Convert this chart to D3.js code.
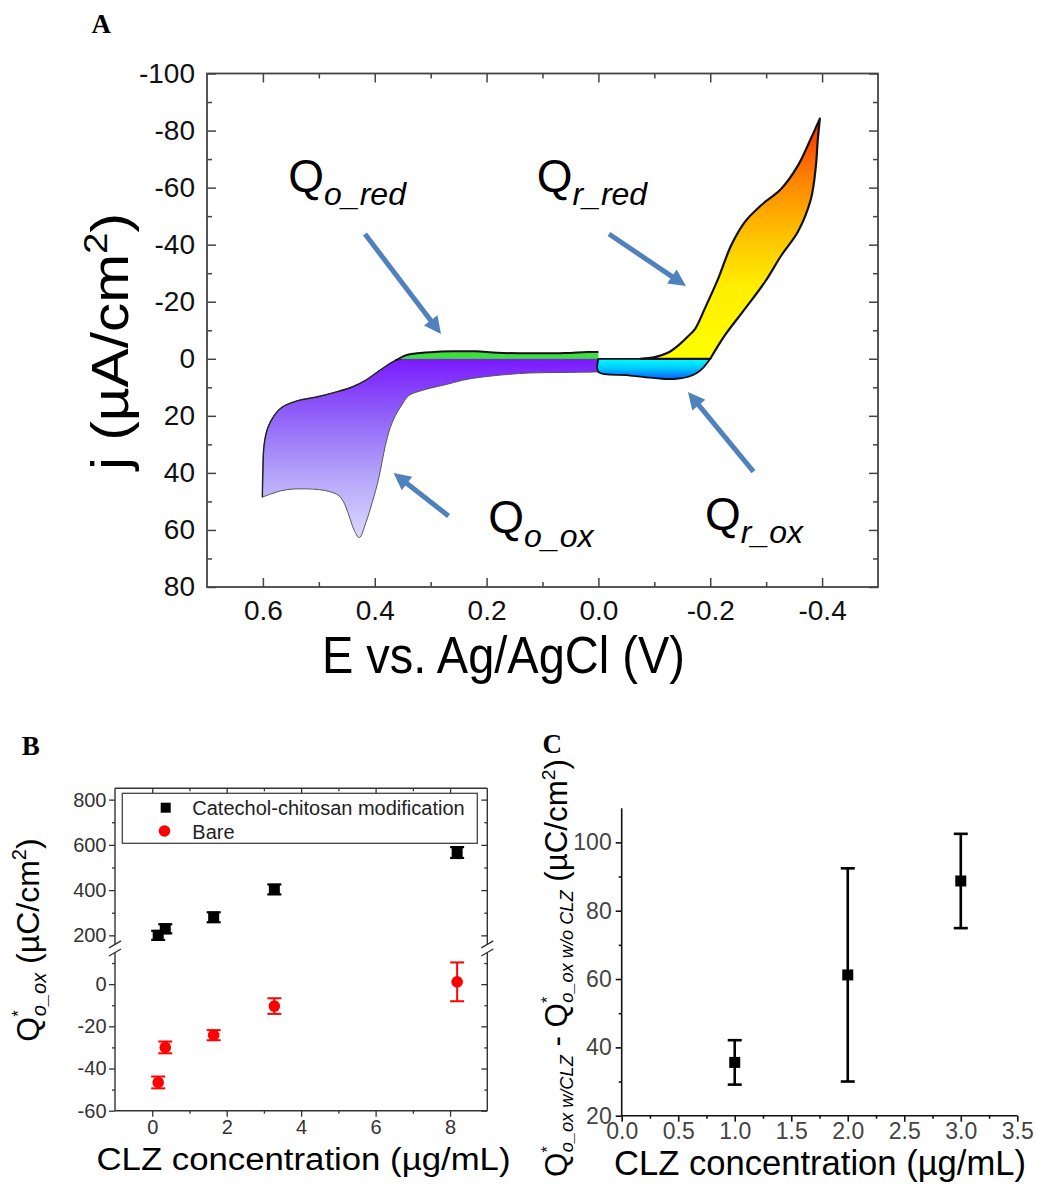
<!DOCTYPE html>
<html><head><meta charset="utf-8">
<script src="https://cdn.jsdelivr.net/npm/d3@7"></script>
<style>
body{margin:0;background:#fff}
svg{display:block;font-family:"Liberation Sans",Arial,sans-serif}
text{white-space:pre}
</style>
</head><body>
<svg id="fig" width="1037" height="1186"></svg>
<script>
// ================= DATA =================
// Panel A : cyclic voltammogram boundaries [E (V), j (uA/cm2)]
const aXTicks = [0.6, 0.4, 0.2, 0.0, -0.2, -0.4];
const aXMinor = [0.5, 0.3, 0.1, -0.1, -0.3];
const aYTicks = [-100, -80, -60, -40, -20, 0, 20, 40, 60, 80];
const aYMinor = [-90, -70, -50, -30, -10, 10, 30, 50, 70];

const oxUpper = [[0.601,48.5],[0.600,38.6],[0.598,30.4],[0.592,24.6],[0.580,19.9],[0.566,17.0],[0.536,14.6],[0.506,13.5],[0.470,11.7],[0.4405,9.9],[0.4167,7.6],[0.387,3.5],[0.363,0.6],[0.352,0]];
const oxPlateau = [[0.352,0],[0.0,0]];
const oxLower = [[0.0,4.6],[0.06,4.8],[0.125,5.0],[0.19,6.0],[0.235,7.2],[0.268,8.8],[0.3155,11.1],[0.339,12.9],[0.351,16.0],[0.363,19.9],[0.372,24],[0.381,30.4],[0.393,42],[0.404,50],[0.416,57.5],[0.4275,62.7],[0.437,60],[0.446,55],[0.455,50.5],[0.464,48],[0.488,46.2],[0.536,45.6],[0.566,46.2],[0.601,48.5]];
const oRedTop = [[0.363,0.6],[0.345,-1.2],[0.33,-1.8],[0.30,-2.3],[0.26,-2.6],[0.22,-2.6],[0.18,-2.1],[0.12,-1.9],[0.06,-2.0],[0.02,-2.4],[0.0,-2.4]];
const oRedBase = [[0.0,0],[0.352,0]];
const rOxLower = [[0.0,0],[0.0,4.6],[-0.054,5.8],[-0.113,7.0],[-0.14,7.0],[-0.161,6.3],[-0.176,5.0],[-0.188,3.0],[-0.2,0]];
const rRedOuter = [[-0.075,0],[-0.101,-0.6],[-0.125,-2.2],[-0.143,-4.7],[-0.16,-7.8],[-0.173,-10.5],[-0.19,-17.5],[-0.214,-28],[-0.2375,-39.8],[-0.262,-48],[-0.291,-53.8],[-0.327,-59.6],[-0.357,-67.8],[-0.380,-77.2],[-0.396,-84.2]];
const rRedInner = [[-0.396,-84.2],[-0.392,-76],[-0.389,-67.8],[-0.38,-56],[-0.357,-44.6],[-0.327,-36.2],[-0.298,-27],[-0.262,-17.5],[-0.226,-8.2],[-0.2,0]];
const rRedBase = [[-0.2,0],[-0.075,0]];

const qNames = ["o_red", "r_red", "o_ox", "r_ox"];
const qPos = [[0.5546,-58.6],[0.1104,-58.6],[0.197,61.2],[-0.1906,60.0]];
const arrowFrom = [[0.4175,-43.74],[-0.0189,-43.74],[0.268,55.11],[-0.2773,39.55]];
const arrowTo = [[0.2815,-8.69],[-0.1566,-25.51],[0.3663,40.04],[-0.1602,11.65]];

// Panel B
const bXTicks = [0, 2, 4, 6, 8];
const bXMinor = [1, 3, 5, 7];
const bYUpperTicks = [200, 400, 600, 800];
const bYUpperMinor = [300, 500, 700];
const bYLowerTicks = [-60, -40, -20, 0];
const bYLowerMinor = [-50, -30, -10, 10];
const concB = [0.16, 0.35, 1.65, 3.28, 8.19];
const catechol = [200, 229, 280, 403, 566];
const catecholErr = [20, 20, 22, 22, 24];
const bare = [-46.6, -30, -24.2, -10.4, 1.1];
const bareErr = [2.8, 2.8, 2.4, 3.7, 9.2];
const legendB = ["Catechol-chitosan modification", "Bare"];

// Panel C
const cXTicks = [0, 0.5, 1.0, 1.5, 2.0, 2.5, 3.0, 3.5];
const cXMinor = [0.25, 0.75, 1.25, 1.75, 2.25, 2.75, 3.25];
const cYTicks = [20, 40, 60, 80, 100];
const cYMinor = [30, 50, 70, 90];
const concC = [1, 2, 3];
const diffC = [35.6, 61.2, 88.7];
const diffErr = [6.5, 31.2, 13.8];

// ================= HELPERS =================
const svg = d3.select("#fig");
const defs = svg.append("defs");
const SERIF = '"Liberation Serif","Times New Roman",serif';
const SANS = '"Liberation Sans",Arial,sans-serif';

function rich(parent, x, y, rot, anchor, parts, opt = {}) {
  const t = parent.append("text")
    .attr("transform", `translate(${x},${y})` + (rot ? ` rotate(${rot})` : ""))
    .attr("text-anchor", anchor).attr("fill", opt.fill || "#000");
  let cur = 0;
  parts.forEach(p => {
    const ts = t.append("tspan").text(p.t).attr("font-size", p.fs);
    if (p.it) ts.attr("font-style", "italic");
    const sh = p.sh || 0;
    if (sh !== cur) { ts.attr("dy", sh - cur); cur = sh; }
    if (p.dx) ts.attr("dx", p.dx);
  });
  if (opt.len) t.attr("textLength", opt.len).attr("lengthAdjust", "spacingAndGlyphs");
  return t;
}
function styleAxis(g, color, width, fs, tcolor) {
  g.select(".domain").remove();
  g.selectAll(".tick line").attr("stroke", color).attr("stroke-width", width);
  g.selectAll(".tick text").attr("font-size", fs).attr("fill", tcolor).attr("font-family", SANS);
  g.attr("font-family", null).attr("font-size", null);
}
function grad(id, y1, y2, stops) {
  const g = defs.append("linearGradient").attr("id", id)
    .attr("gradientUnits", "userSpaceOnUse").attr("x1", 0).attr("x2", 0).attr("y1", y1).attr("y2", y2);
  stops.forEach(s => g.append("stop").attr("offset", s[0]).attr("stop-color", s[1]));
}
const fmt1 = d => d.toFixed(1);
function panelLabel(t, x, y) {
  svg.append("text").text(t).attr("x", x).attr("y", y)
    .style("font-family", SERIF).style("font-weight", "bold").style("font-size", "27px");
}

// ================= PANEL A =================
const gA = svg.append("g");
const xA = d3.scaleLinear().domain([0.7, -0.5]).range([207, 878]);
const yA = d3.scaleLinear().domain([-100, 80]).range([73.5, 587]);
const lineA = d3.line().x(d => xA(d[0])).y(d => yA(d[1])).curve(d3.curveCatmullRom.alpha(0.5));
const linA = d3.line().x(d => xA(d[0])).y(d => yA(d[1]));
const cont = s => s.replace(/^M/, "L");

grad("gPurple", yA(0), yA(63), [[0, "#7a1aff"], [0.3, "#8f5ef8"], [0.65, "#b4a4fa"], [1, "#dcd9ff"]]);
grad("gHot", yA(0), yA(-85), [[0, "#ffff00"], [0.3, "#ffee00"], [0.5, "#ffc400"], [0.7, "#ff9000"], [0.85, "#ff5e00"], [1, "#ff2200"]]);
grad("gCyan", yA(0), yA(7.2), [[0, "#00ffff"], [0.5, "#00c4ff"], [1, "#0a58ff"]]);

// purple (Q_o_ox)
const purplePath = lineA(oxUpper) + cont(linA(oxPlateau)) + cont(lineA(oxLower)) + "Z";
gA.append("path").attr("d", purplePath).attr("fill", "url(#gPurple)").attr("stroke", "#555").attr("stroke-width", 1);
gA.append("path").attr("d", lineA(oxUpper)).attr("fill", "none").attr("stroke", "#222").attr("stroke-width", 1.4);
// green (Q_o_red)
gA.append("path").attr("d", lineA(oRedTop) + cont(linA(oRedBase)) + "Z").attr("fill", "#3fdc3f").attr("stroke", "none");
gA.append("path").attr("d", lineA(oRedTop)).attr("fill", "none").attr("stroke", "#111").attr("stroke-width", 2);
// cyan (Q_r_ox)
gA.append("path").attr("d", lineA(rOxLower) + "Z").attr("fill", "url(#gCyan)").attr("stroke", "#111").attr("stroke-width", 1.8);
// yellow-red (Q_r_red)
gA.append("path").attr("d", lineA(rRedOuter) + cont(lineA(rRedInner)) + cont(linA(rRedBase)) + "Z")
  .attr("fill", "url(#gHot)").attr("stroke", "#111").attr("stroke-width", 2.2).attr("stroke-linejoin", "round");

// frame & ticks
const axColA = "#444";
gA.append("g").attr("transform", "translate(0,587)")
  .call(d3.axisBottom(xA).tickValues(aXTicks).tickSize(-9).tickSizeOuter(0).tickPadding(13).tickFormat(fmt1))
  .call(g => styleAxis(g, axColA, 1.5, 28, "#111"));
gA.append("g").attr("transform", "translate(0,587)")
  .call(d3.axisBottom(xA).tickValues(aXMinor).tickSize(-5).tickSizeOuter(0).tickFormat(""))
  .call(g => styleAxis(g, axColA, 1.5, 28, "#111"));
gA.append("g").attr("transform", "translate(0,73.5)")
  .call(d3.axisTop(xA).tickValues(aXTicks).tickSize(-9).tickSizeOuter(0).tickFormat(""))
  .call(g => styleAxis(g, axColA, 1.5, 28, "#111"));
gA.append("g").attr("transform", "translate(0,73.5)")
  .call(d3.axisTop(xA).tickValues(aXMinor).tickSize(-5).tickSizeOuter(0).tickFormat(""))
  .call(g => styleAxis(g, axColA, 1.5, 28, "#111"));
gA.append("g").attr("transform", "translate(207,0)")
  .call(d3.axisLeft(yA).tickValues(aYTicks).tickSize(-9).tickSizeOuter(0).tickPadding(12).tickFormat(d => String(d)))
  .call(g => styleAxis(g, axColA, 1.5, 28, "#111"));
gA.append("g").attr("transform", "translate(207,0)")
  .call(d3.axisLeft(yA).tickValues(aYMinor).tickSize(-5).tickSizeOuter(0).tickFormat(""))
  .call(g => styleAxis(g, axColA, 1.5, 28, "#111"));
gA.append("g").attr("transform", "translate(878,0)")
  .call(d3.axisRight(yA).tickValues(aYTicks).tickSize(-9).tickSizeOuter(0).tickFormat(""))
  .call(g => styleAxis(g, axColA, 1.5, 28, "#111"));
gA.append("g").attr("transform", "translate(878,0)")
  .call(d3.axisRight(yA).tickValues(aYMinor).tickSize(-5).tickSizeOuter(0).tickFormat(""))
  .call(g => styleAxis(g, axColA, 1.5, 28, "#111"));
gA.append("rect").attr("x", xA(0.7)).attr("y", yA(-100)).attr("width", xA(-0.5) - xA(0.7)).attr("height", yA(80) - yA(-100))
  .attr("fill", "none").attr("stroke", axColA).attr("stroke-width", 1.8);

// arrows
const arrowCol = "#4f81bd";
arrowFrom.forEach((f, i) => {
  const x1 = xA(f[0]), y1 = yA(f[1]), x2 = xA(arrowTo[i][0]), y2 = yA(arrowTo[i][1]);
  const dx = x2 - x1, dy = y2 - y1, L = Math.hypot(dx, dy), ux = dx / L, uy = dy / L;
  const hl = 17, hw = 8.5;
  const bx = x2 - ux * hl, by = y2 - uy * hl;
  gA.append("line").attr("x1", x1).attr("y1", y1).attr("x2", bx + ux * 2).attr("y2", by + uy * 2)
    .attr("stroke", arrowCol).attr("stroke-width", 5);
  gA.append("path").attr("d", `M${x2},${y2}L${bx - uy * hw},${by + ux * hw}L${bx + uy * hw},${by - ux * hw}Z`)
    .attr("fill", arrowCol);
});
// Q labels
qNames.forEach((n, i) => {
  rich(gA, xA(qPos[i][0]), yA(qPos[i][1]), 0, "start",
    [{t: "Q", fs: 46}, {t: n, fs: 32, it: true, sh: 13.3}]);
});
// titles
rich(gA, 503.4, 673, 0, "middle", [{t: "E vs. Ag/AgCl (V)", fs: 52}], {len: 363});
rich(gA, 128, 341.5, -90, "middle", [{t: "j (\u00b5A/cm", fs: 52}, {t: "2", fs: 34, sh: -21}, {t: ")", fs: 52, sh: 0}], {len: 257});
panelLabel("A", 91.5, 33.3);

// ================= PANEL B =================
const gB = svg.append("g");
const bL = 115, bR = 487.3, bT = 788.3, bB = 1110.7;
const xB = d3.scaleLinear().domain([-1, 9]).range([bL, bR]);
const yBU = d3.scaleLinear().domain([160, 850]).range([944.4, bT]);
const yBL = d3.scaleLinear().domain([-60, 15]).range([bB, 952.5]);
const axColB = "#333";
const lblB = "#333";

function axB(gen, tr) {
  gB.append("g").attr("transform", tr).call(gen).call(g => styleAxis(g, axColB, 1.3, 20, lblB));
}
axB(d3.axisBottom(xB).tickValues(bXTicks).tickSize(6).tickPadding(3).tickSizeOuter(0), `translate(0,${bB})`);
axB(d3.axisBottom(xB).tickValues(bXMinor).tickSize(3).tickFormat("").tickSizeOuter(0), `translate(0,${bB})`);
axB(d3.axisTop(xB).tickValues(bXTicks).tickSize(-6).tickFormat("").tickSizeOuter(0), `translate(0,${bT})`);
axB(d3.axisTop(xB).tickValues(bXMinor).tickSize(-3).tickFormat("").tickSizeOuter(0), `translate(0,${bT})`);
[[yBU, bYUpperTicks, bYUpperMinor], [yBL, bYLowerTicks, bYLowerMinor]].forEach(([sc, mj, mn]) => {
  axB(d3.axisLeft(sc).tickValues(mj).tickSize(6).tickPadding(2.5).tickSizeOuter(0).tickFormat(d => String(d)), `translate(${bL},0)`);
  axB(d3.axisLeft(sc).tickValues(mn).tickSize(3).tickFormat("").tickSizeOuter(0), `translate(${bL},0)`);
  axB(d3.axisRight(sc).tickValues(mj).tickSize(-6).tickFormat("").tickSizeOuter(0), `translate(${bR},0)`);
  axB(d3.axisRight(sc).tickValues(mn).tickSize(-3).tickFormat("").tickSizeOuter(0), `translate(${bR},0)`);
});
// frame with broken y axis
const frameB = gB.append("g").attr("stroke", axColB).attr("stroke-width", 1.4).attr("fill", "none");
frameB.append("line").attr("x1", bL).attr("x2", bR).attr("y1", bT).attr("y2", bT);
frameB.append("line").attr("x1", bL).attr("x2", bR).attr("y1", bB).attr("y2", bB);
[bL, bR].forEach(x => {
  frameB.append("line").attr("x1", x).attr("x2", x).attr("y1", bT).attr("y2", yBU(160));
  frameB.append("line").attr("x1", x).attr("x2", x).attr("y1", yBL(15)).attr("y2", bB);
  [yBU(160), yBL(15)].forEach(yb => {
    frameB.append("line").attr("x1", x - 6).attr("y1", yb + 3.5).attr("x2", x + 6).attr("y2", yb - 3.5);
  });
});
// error bars + markers
const yBv = v => (v >= 100 ? yBU(v) : yBL(v));
function errBar(g, x, yTop, yBot, col, w, cap) {
  g.append("line").attr("x1", x).attr("x2", x).attr("y1", yTop).attr("y2", yBot).attr("stroke", col).attr("stroke-width", w);
  g.append("line").attr("x1", x - cap / 2).attr("x2", x + cap / 2).attr("y1", yTop).attr("y2", yTop).attr("stroke", col).attr("stroke-width", w);
  g.append("line").attr("x1", x - cap / 2).attr("x2", x + cap / 2).attr("y1", yBot).attr("y2", yBot).attr("stroke", col).attr("stroke-width", w);
}
concB.forEach((c, i) => {
  errBar(gB, xB(c), yBv(catechol[i] + catecholErr[i]), yBv(catechol[i] - catecholErr[i]), "#000", 2.2, 14);
  errBar(gB, xB(c), yBv(bare[i] + bareErr[i]), yBv(bare[i] - bareErr[i]), "#ff0000", 2, 14);
});
gB.selectAll("rect.mk").data(concB).enter().append("rect")
  .attr("x", (d) => xB(d) - 5.5).attr("y", (d, i) => yBv(catechol[i]) - 5.5).attr("width", 11).attr("height", 11).attr("fill", "#000");
gB.selectAll("circle.mk").data(concB).enter().append("circle")
  .attr("cx", d => xB(d)).attr("cy", (d, i) => yBv(bare[i])).attr("r", 5.8).attr("fill", "#ff0000");
// legend
const lg = gB.append("g");
lg.append("rect").attr("x", 122.3).attr("y", 793.3).attr("width", 355).attr("height", 50)
  .attr("fill", "#fff").attr("stroke", "#444").attr("stroke-width", 1.3);
lg.append("rect").attr("x", 160.7).attr("y", 802.7).attr("width", 10).attr("height", 10).attr("fill", "#000");
lg.append("circle").attr("cx", 164.5).attr("cy", 831).attr("r", 5.8).attr("fill", "#ff0000");
lg.append("text").text(legendB[0]).attr("x", 192.3).attr("y", 814.5).attr("font-size", 20).attr("fill", "#222");
lg.append("text").text(legendB[1]).attr("x", 192.3).attr("y", 838.5).attr("font-size", 20).attr("fill", "#222");
// titles
rich(gB, 303.5, 1170, 0, "middle", [{t: "CLZ concentration (\u00b5g/mL)", fs: 31}], {len: 414});
rich(gB, 38.5, 940, -90, "middle", [
  {t: "Q", fs: 32}, {t: "*", fs: 17, sh: -15}, {t: "o_ox", fs: 20, it: true, sh: 7, dx: -6},
  {t: " (\u00b5C/cm", fs: 32, sh: 0}, {t: "2", fs: 20, sh: -13}, {t: ")", fs: 32, sh: 0}]);
panelLabel("B", 21.7, 755);

// ================= PANEL C =================
const gC = svg.append("g");
const xC = d3.scaleLinear().domain([0, 3.5]).range([621.7, 1017.3]);
const yC = d3.scaleLinear().domain([20, 110]).range([1115.7, 808.2]);
const axColC = "#111", lblC = "#444";
function axC(gen, tr) {
  gC.append("g").attr("transform", tr).call(gen).call(g => styleAxis(g, axColC, 1.6, 23, lblC));
}
axC(d3.axisBottom(xC).tickValues(cXTicks).tickSize(6).tickPadding(1).tickSizeOuter(0).tickFormat(fmt1), "translate(0,1115.7)");
axC(d3.axisBottom(xC).tickValues(cXMinor).tickSize(3).tickFormat("").tickSizeOuter(0), "translate(0,1115.7)");
axC(d3.axisLeft(yC).tickValues(cYTicks).tickSize(6).tickPadding(4).tickSizeOuter(0).tickFormat(d => String(d)), "translate(621.7,0)");
axC(d3.axisLeft(yC).tickValues(cYMinor).tickSize(3).tickFormat("").tickSizeOuter(0), "translate(621.7,0)");
gC.append("line").attr("x1", xC(0)).attr("x2", xC(3.5)).attr("y1", yC(20)).attr("y2", yC(20)).attr("stroke", axColC).attr("stroke-width", 1.6);
gC.append("line").attr("x1", xC(0)).attr("x2", xC(0)).attr("y1", yC(20)).attr("y2", yC(110)).attr("stroke", axColC).attr("stroke-width", 1.6);
concC.forEach((c, i) => errBar(gC, xC(c), yC(diffC[i] + diffErr[i]), yC(diffC[i] - diffErr[i]), "#000", 2.6, 14));
gC.selectAll("rect.mk").data(concC).enter().append("rect")
  .attr("x", d => xC(d) - 5.5).attr("y", (d, i) => yC(diffC[i]) - 5.5).attr("width", 11).attr("height", 11).attr("fill", "#000");
rich(gC, 820, 1175, 0, "middle", [{t: "CLZ concentration (\u00b5g/mL)", fs: 34.5}], {len: 412});
rich(gC, 567, 968, -90, "middle", [
  {t: "Q", fs: 31}, {t: "*", fs: 16, sh: -14}, {t: "o_ox w/CLZ", fs: 18, it: true, sh: 6, dx: -6},
  {t: " - ", fs: 31, sh: 0},
  {t: "Q", fs: 31}, {t: "*", fs: 16, sh: -14}, {t: "o_ox w/o CLZ", fs: 18, it: true, sh: 6, dx: -6},
  {t: " (\u00b5C/cm", fs: 31, sh: 0}, {t: "2", fs: 19, sh: -12}, {t: ")", fs: 31, sh: 0}], {len: 418});
panelLabel("C", 542.5, 753);
</script>
</body></html>
